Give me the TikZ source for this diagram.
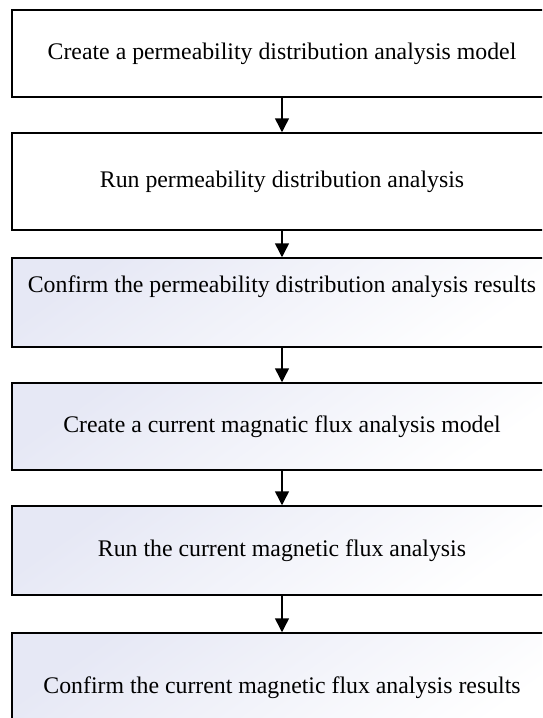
\documentclass[tikz,border=0pt]{standalone}
\usepackage{fontspec}
\setmainfont{Liberation Serif}
\usetikzlibrary{arrows.meta}

\definecolor{shadetop}{RGB}{230,232,245}

\tikzset{
	stepbox/.style={draw=black, line width=1.5pt, rectangle, minimum width=540pt, inner sep=0pt,
		font=\fontsize{23.8}{28}\selectfont, fill=white},
	shadebox/.style={stepbox, shading=axis, top color=shadetop, bottom color=white, shading angle=35},
	flow/.style={line width=1.5pt, -{Triangle[length=14pt,width=14pt]}}
}

\begin{document}
\begin{tikzpicture}[x=1pt,y=-1pt]
		\clip (0,0) rectangle (542,718);
		\node[stepbox, minimum height=87pt] (model) at (282,53.5) {Create a permeability distribution analysis model};
		\node[stepbox, minimum height=97pt] (run) at (282,181.5) {Run permeability distribution analysis};
		\node[shadebox, minimum height=89pt, text depth=36pt] (confirm) at (282,302.5) {Confirm the permeability distribution analysis results};
		\node[shadebox, minimum height=87pt] (fluxmodel) at (282,426.5) {Create a current magnatic flux analysis model};
		\node[shadebox, minimum height=89pt] (fluxrun) at (282,550.5) {Run the current magnetic flux analysis};
		\node[shadebox, minimum height=110pt] (fluxconfirm) at (282,688) {Confirm the current magnetic flux analysis results};
		\foreach \a/\b in {model/run, run/confirm, confirm/fluxmodel, fluxmodel/fluxrun, fluxrun/fluxconfirm}
			\draw[flow] (\a.south) -- (\b.north);
	\end{tikzpicture}
\end{document}
